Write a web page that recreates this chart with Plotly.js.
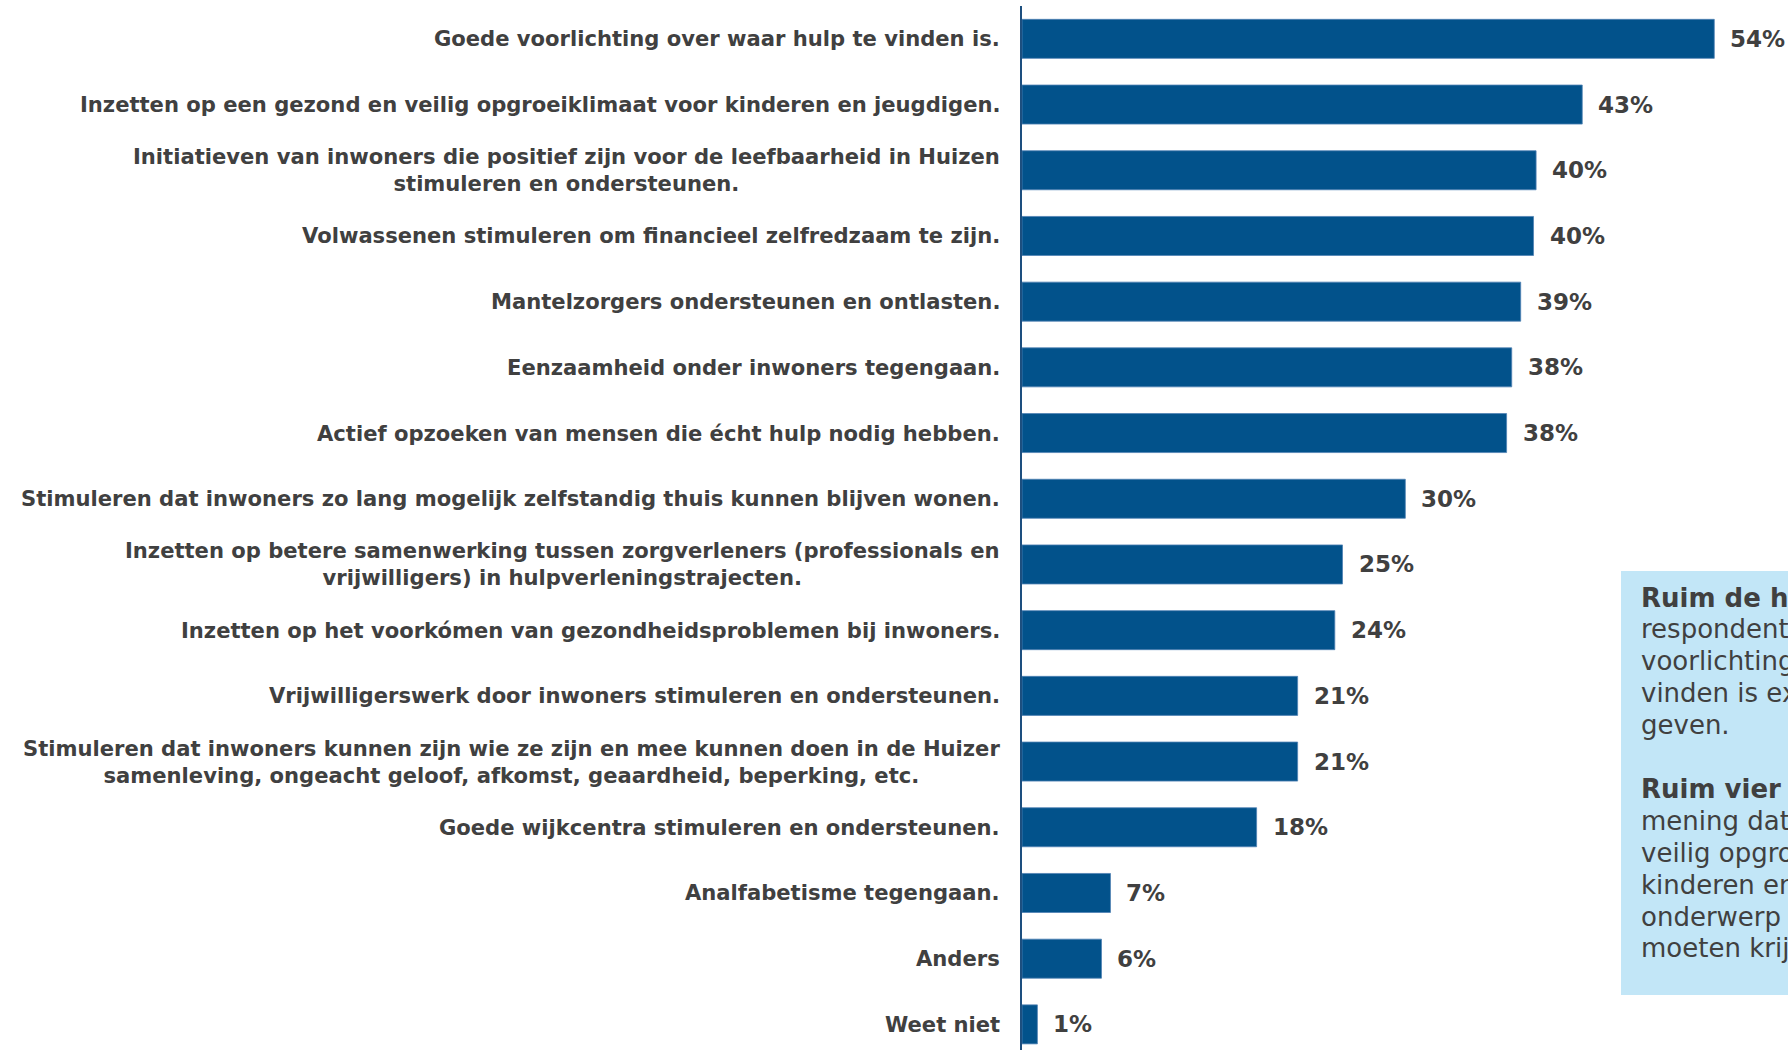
<!DOCTYPE html>
<html>
<head>
<meta charset="utf-8">
<script src="https://cdn.plot.ly/plotly-3.0.1.min.js"></script>
<style>
  html, body { margin: 0; padding: 0; background: #ffffff; overflow: hidden; }
  #chart { width: 1788px; height: 1050px; }
</style>
</head>
<body>
<div id="chart"></div>
<script>
const categories = [
  "Goede voorlichting over waar hulp te vinden is.",
  "Inzetten op een gezond en veilig opgroeiklimaat voor kinderen en jeugdigen.",
  "Initiatieven van inwoners die positief zijn voor de leefbaarheid in Huizen<br>stimuleren en ondersteunen.",
  "Volwassenen stimuleren om financieel zelfredzaam te zijn.",
  "Mantelzorgers ondersteunen en ontlasten.",
  "Eenzaamheid onder inwoners tegengaan.",
  "Actief opzoeken van mensen die écht hulp nodig hebben.",
  "Stimuleren dat inwoners zo lang mogelijk zelfstandig thuis kunnen blijven wonen.",
  "Inzetten op betere samenwerking tussen zorgverleners (professionals en<br>vrijwilligers) in hulpverleningstrajecten.",
  "Inzetten op het voorkómen van gezondheidsproblemen bij inwoners.",
  "Vrijwilligerswerk door inwoners stimuleren en ondersteunen.",
  "Stimuleren dat inwoners kunnen zijn wie ze zijn en mee kunnen doen in de Huizer<br>samenleving, ongeacht geloof, afkomst, geaardheid, beperking, etc.",
  "Goede wijkcentra stimuleren en ondersteunen.",
  "Analfabetisme tegengaan.",
  "Anders",
  "Weet niet"
];
const values = [54.0, 43.7, 40.1, 39.9, 38.9, 38.2, 37.8, 29.9, 25.0, 24.4, 21.5, 21.5, 18.3, 6.9, 6.2, 1.2];
const valueLabels = ["54%", "43%", "40%", "40%", "39%", "38%", "38%", "30%", "25%", "24%", "21%", "21%", "18%", "7%", "6%", "1%"];
const noteLines = [
  "<b>Ruim de helft</b> van de",
  "respondenten wil goede",
  "voorlichting over waar hulp te",
  "vinden is extra aandacht",
  "geven.",
  "",
  "<b>Ruim vier</b> op de tien is van",
  "mening dat een gezond en",
  "veilig opgroeiklimaat voor",
  "kinderen en jeugdigen een",
  "onderwerp is dat aandacht",
  "moeten krijgen."
];

const barColor = "#02528b";
const textColor = "#404040";
const font = "DejaVu Sans, Verdana, sans-serif";

const W = 1788, H = 1050, ML = 1022, MT = 6, MB = 0, MR = 0;
const plotH = H - MT - MB;

const trace = {
  type: "bar",
  orientation: "h",
  x: values,
  y: categories,
  marker: { color: barColor, line: { color: "#4f82b4", width: 0.8 } },
  hoverinfo: "skip"
};

const annotations = [];
categories.forEach((c, i) => {
  annotations.push({
    xref: "paper", yref: "y", x: 0, y: c,
    xanchor: "right", yanchor: "middle", xshift: -20,
    text: c, showarrow: false, align: "center",
    font: { family: font, size: 21.1, weight: 700, color: textColor }
  });
  annotations.push({
    xref: "x", yref: "y", x: values[i], y: c,
    xanchor: "left", yanchor: "middle", xshift: 14,
    text: valueLabels[i], showarrow: false,
    font: { family: font, size: 23, weight: 700, color: textColor }
  });
});
// note box text, one line per annotation (first line center ~597px, 32px line pitch)
noteLines.forEach((line, k) => {
  if (!line) return;
  const py = 597.5 + k * 31.9;
  annotations.push({
    xref: "paper", yref: "paper", x: 0.806, y: 1 - (py - MT) / plotH,
    xanchor: "left", yanchor: "middle",
    text: line, showarrow: false, align: "left",
    font: { family: font, size: 26, color: textColor }
  });
});

const layout = {
  width: W, height: H,
  margin: { l: ML, r: MR, t: MT, b: MB },
  paper_bgcolor: "#ffffff", plot_bgcolor: "rgba(0,0,0,0)",
  bargap: 0.406,
  showlegend: false,
  xaxis: { range: [0, 59.75], visible: false, showgrid: false, zeroline: false, fixedrange: true },
  yaxis: {
    type: "category", range: [15.39, -0.5],
    showticklabels: false, ticks: "", showgrid: false, zeroline: false,
    showline: true, linecolor: "#1d4f7f", linewidth: 2, fixedrange: true
  },
  shapes: [{
    type: "rect", xref: "paper", yref: "paper", layer: "below",
    x0: 0.782, x1: 1.2, y0: 0.0527, y1: 0.4588,
    fillcolor: "#c2e6f7", line: { width: 0 }
  }],
  annotations: annotations
};

Plotly.newPlot("chart", [trace], layout, { displayModeBar: false, staticPlot: true });
</script>
</body>
</html>
